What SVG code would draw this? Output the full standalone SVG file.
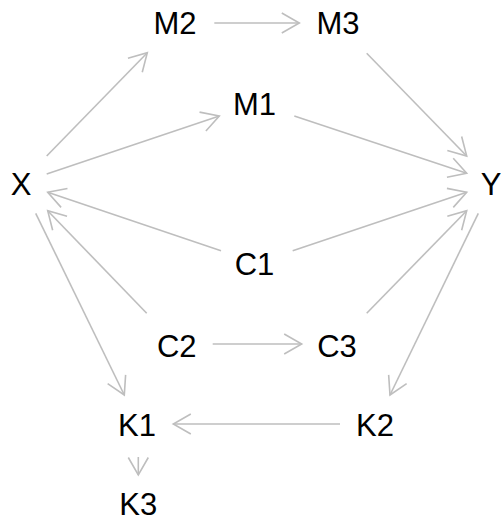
<svg xmlns="http://www.w3.org/2000/svg" width="501" height="518" viewBox="0 0 501 518">
<style>
text{font-family:"Liberation Sans",Arial,sans-serif;font-size:31px;fill:#000;text-anchor:middle}
.e{stroke:#bebebe;stroke-width:1.6;fill:none;marker-end:url(#ah)}
</style>
<defs>
<marker id="ah" markerUnits="userSpaceOnUse" orient="auto" markerWidth="40" markerHeight="40" refX="0" refY="0" viewBox="-20 -20 40 40" overflow="visible">
<path d="M-17.5,-10 L0,0 L-17.5,10" fill="none" stroke="#bebebe" stroke-width="1.6"/>
</marker>
</defs>
<rect width="501" height="518" fill="#fff"/>
<g id="connectors">
<line class="e" x1="46.7" y1="156" x2="147.3" y2="52.7"/>
<line class="e" x1="46.7" y1="174" x2="219.3" y2="116"/>
<line class="e" x1="221" y1="250.7" x2="47.7" y2="192.3"/>
<line class="e" x1="146.7" y1="313.3" x2="47.7" y2="210.7"/>
<line class="e" x1="35.7" y1="213.3" x2="124.3" y2="395"/>
<line class="e" x1="214.3" y1="23" x2="299.3" y2="23"/>
<line class="e" x1="366.7" y1="53.3" x2="466.7" y2="156"/>
<line class="e" x1="294.3" y1="116" x2="466.7" y2="173.3"/>
<line class="e" x1="292.7" y1="250.7" x2="466.7" y2="192.3"/>
<line class="e" x1="366.7" y1="313.3" x2="466.7" y2="210.7"/>
<line class="e" x1="478.3" y1="213.3" x2="390" y2="395"/>
<line class="e" x1="212.7" y1="344" x2="301.7" y2="344"/>
<line class="e" x1="340" y1="424" x2="173.3" y2="424"/>
<line class="e" x1="138.3" y1="457" x2="138.3" y2="475"/>
</g>
<g id="X"><text x="21" y="195">X</text></g>
<g id="Y"><text x="491" y="194.5">Y</text></g>
<g id="M1"><text x="254.5" y="115">M1</text></g>
<g id="M2"><text x="175" y="34.3">M2</text></g>
<g id="M3"><text x="338" y="34.3">M3</text></g>
<g id="C1"><text x="254.5" y="275">C1</text></g>
<g id="C2"><text x="176.7" y="356.5">C2</text></g>
<g id="C3"><text x="337" y="357">C3</text></g>
<g id="K1"><text x="137" y="436">K1</text></g>
<g id="K2"><text x="375" y="436">K2</text></g>
<g id="K3"><text x="138.3" y="514.5">K3</text></g>
</svg>
